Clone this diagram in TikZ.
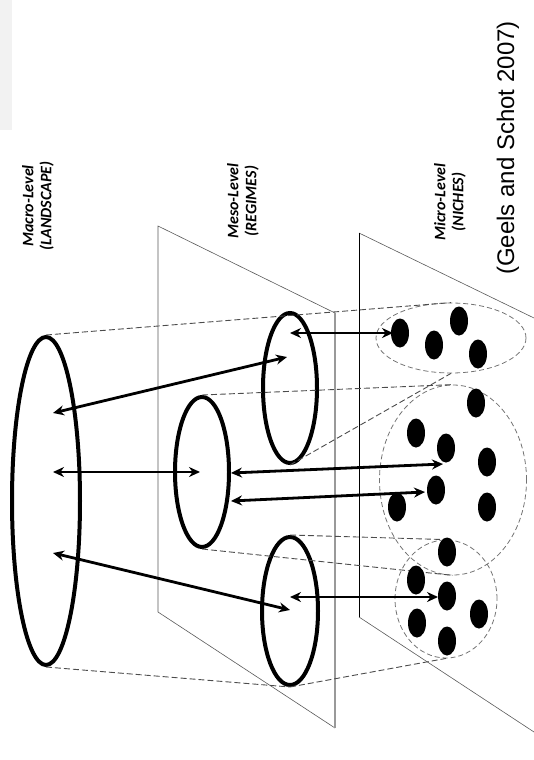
\documentclass[tikz,border=0pt]{standalone}
\usepackage{fontspec}
\setmainfont{Carlito}
\newfontfamily\libsans{Liberation Sans}
\usetikzlibrary{shapes.geometric,arrows.meta}
\begin{document}
\begin{tikzpicture}[x=1pt,y=-1pt,
  planeline/.style={draw=black!65, line width=0.6pt},
  coneline/.style={draw=black!70, dash pattern=on 6pt off 3pt, line width=0.9pt},
  bigell/.style={ellipse, draw=black, line width=4pt, inner sep=0pt},
  nichering/.style={ellipse, draw=black!55, dash pattern=on 5pt off 3pt, line width=0.8pt, inner sep=0pt},
  blob/.style={ellipse, fill=black, minimum width=18pt, minimum height=29pt, inner sep=0pt},
  link/.style={line width=2.8pt, {Stealth[length=11pt,width=10pt]}-{Stealth[length=11pt,width=10pt]}},
  lvl/.style={rotate=90, align=center, inner sep=0pt, font=\fontsize{16}{18}\selectfont\bfseries\itshape}
]
\useasboundingbox (0,0) rectangle (534,760);
\fill[black!5] (0,0) rectangle (12,130);

% labels
\node[lvl] (lmacro) at (38,206) {Macro-Level\\(LANDSCAPE)};
\node[lvl] (lmeso) at (243,201) {Meso-Level\\(REGIMES)};
\node[lvl] (lmicro) at (450,202) {Micro-Level\\(NICHES)};
\node[rotate=90, inner sep=0pt, font=\libsans\fontsize{24}{28}\selectfont] (src) at (508,148) {(Geels and Schot 2007)};

% meso plane
\coordinate (mp1) at (158,226);
\coordinate (mp2) at (335,313);
\coordinate (mp3) at (335,728);
\coordinate (mp4) at (158,612);
\draw[planeline] (mp4) -- (mp1) -- (mp2);
\draw[planeline] (mp4) -- (mp3);
\draw[draw=black!40, line width=1.5pt] (mp2) -- (mp3);

% micro plane
\coordinate (np1) at (359,233);
\coordinate (np2) at (534,318);
\coordinate (np3) at (534,732);
\coordinate (np4) at (359,617);
\draw[planeline] (np1) -- (np2);
\draw[planeline] (np4) -- (np3);
\draw[black, line width=0.8pt] (np1) -- (np4);

% ellipses
\node[bigell, minimum width=68pt, minimum height=328pt] (macro) at (46,501) {};
\node[bigell, minimum width=54pt, minimum height=150pt] (mesoA) at (290,388) {};
\node[bigell, minimum width=54pt, minimum height=150pt] (mesoB) at (202,472) {};
\node[bigell, minimum width=56pt, minimum height=148pt] (mesoC) at (290,611) {};

\node[nichering, minimum width=150pt, minimum height=70pt] (nA) at (451,338) {};
\node[nichering, minimum width=147pt, minimum height=190pt] (nB) at (453,480) {};
\node[nichering, minimum width=102pt, minimum height=118pt] (nC) at (446,599) {};

% cone lines
\draw[coneline] (macro.north) -- (nA.north);
\draw[coneline] (mesoA.south) -- (nA.south);
\draw[coneline] (mesoB.north) -- (nB.north);
\draw[coneline] (mesoB.south) -- (nB.south);
\draw[coneline] (mesoC.north) -- (nC.north);
\draw[coneline] (macro.south) -- (mesoC.south);
\draw[coneline] (mesoC.south) -- (nC.south);

% dots
\node[blob] (d1) at (400,333) {};
\node[blob] (d2) at (434,345) {};
\node[blob] (d3) at (459,321) {};
\node[blob] (d4) at (478,354) {};
\node[blob] (d5) at (476,403) {};
\node[blob] (d6) at (416,433) {};
\node[blob] (d7) at (446,448) {};
\node[blob] (d8) at (487,462) {};
\node[blob] (d9) at (436,490) {};
\node[blob] (d10) at (397,507) {};
\node[blob] (d11) at (487,507) {};
\node[blob] (d12) at (447,552) {};
\node[blob] (d13) at (416,580) {};
\node[blob] (d14) at (447,596) {};
\node[blob] (d15) at (479,614) {};
\node[blob] (d16) at (417,623) {};
\node[blob] (d17) at (447,641) {};

% arrow end points
\coordinate (a1s) at (53,413);  \coordinate (a1e) at (287,357);
\coordinate (a2s) at (290,333); \coordinate (a2e) at (393,333);
\coordinate (a3s) at (53,472);  \coordinate (a3e) at (200,472);
\coordinate (a4s) at (231,473); \coordinate (a4e) at (443,464);
\coordinate (a5s) at (231,501); \coordinate (a5e) at (425,492);
\coordinate (a6s) at (53,553);  \coordinate (a6e) at (290,610);
\coordinate (a7s) at (290,597); \coordinate (a7e) at (438,597);

\draw[link] (a1s) -- (a1e);
\draw[link] (a2s) -- (a2e);
\draw[link] (a3s) -- (a3e);
\draw[link] (a4s) -- (a4e);
\draw[link] (a5s) -- (a5e);
\draw[link] (a6s) -- (a6e);
\draw[link] (a7s) -- (a7e);
\end{tikzpicture}
\end{document}
